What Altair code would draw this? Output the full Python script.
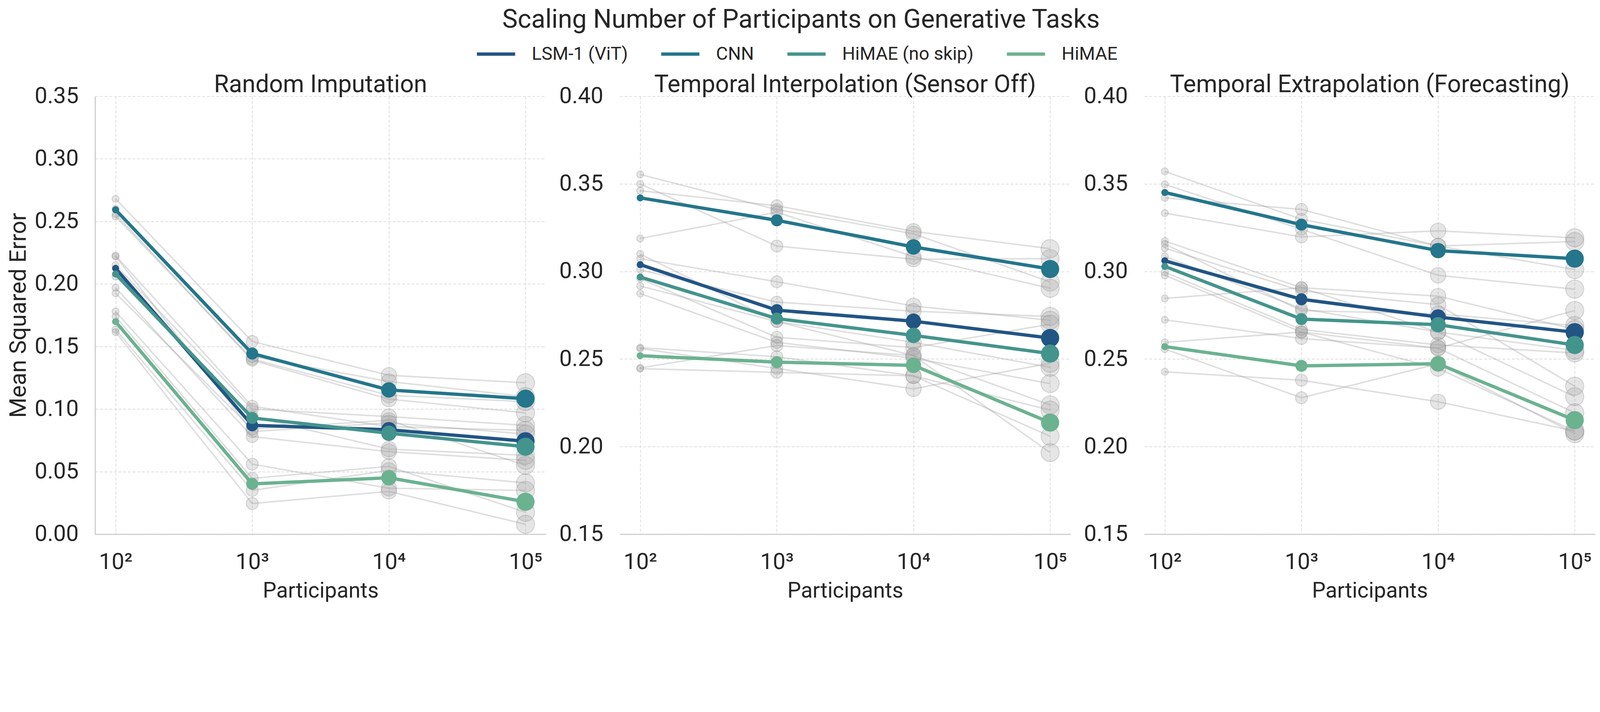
import altair as alt
import pandas as pd

FONT = "Roboto"
TEXT = "#262626"

PARTICIPANTS = [100, 1000, 10000, 100000]
MODELS = ["LSM-1 (ViT)", "CNN", "HiMAE (no skip)", "HiMAE"]
COLORS = ["#215584", "#23768b", "#43948c", "#6bb290"]
PANELS = ["Random Imputation", "Temporal Interpolation (Sensor Off)",
          "Temporal Extrapolation (Forecasting)"]

# ---- Random Imputation ----
RI_LSM = [0.2125, 0.0870, 0.0835, 0.0743]
RI_CNN = [0.2593, 0.1444, 0.1153, 0.1083]
RI_NOSKIP = [0.2080, 0.0929, 0.0807, 0.0699]
RI_HIMAE = [0.1699, 0.0402, 0.0451, 0.0259]
RI_GRAY = [
    [0.268, 0.154, 0.127, 0.121],
    [0.254, 0.140, 0.111, 0.106],
    [0.256, 0.139, 0.108, 0.097],
    [0.260, 0.142, 0.122, 0.110],
    [0.215, 0.100, 0.094, 0.087],
    [0.222, 0.082, 0.089, 0.080],
    [0.197, 0.078, 0.066, 0.059],
    [0.2226, 0.1022, 0.086, 0.083],
    [0.206, 0.094, 0.068, 0.063],
    [0.1926, 0.084, 0.091, 0.055],
    [0.178, 0.056, 0.0367, 0.035],
    [0.174, 0.0446, 0.0542, 0.0175],
    [0.1636, 0.035, 0.051, 0.041],
    [0.1615, 0.0245, 0.0342, 0.0079],
]

# ---- Temporal Interpolation (Sensor Off) ----
TI_LSM = [0.3039, 0.2779, 0.2716, 0.2620]
TI_CNN = [0.3420, 0.3292, 0.3140, 0.3014]
TI_NOSKIP = [0.2968, 0.2731, 0.2635, 0.2531]
TI_HIMAE = [0.2519, 0.2482, 0.2464, 0.2137]
TI_GRAY = [
    [0.3554, 0.3353, 0.3215, 0.2940],
    [0.3500, 0.3145, 0.3070, 0.3073],
    [0.3461, 0.3375, 0.3229, 0.3130],
    [0.3188, 0.3338, 0.3085, 0.2904],
    [0.3073, 0.2941, 0.2803, 0.2721],
    [0.3010, 0.2825, 0.2773, 0.2743],
    [0.3100, 0.2714, 0.2520, 0.2238],
    [0.2959, 0.2624, 0.2565, 0.2699],
    [0.2917, 0.2714, 0.2595, 0.2453],
    [0.2874, 0.2595, 0.2505, 0.2360],
    [0.2565, 0.2513, 0.2404, 0.2208],
    [0.2560, 0.2446, 0.2330, 0.2476],
    [0.2449, 0.2577, 0.2520, 0.1966],
    [0.2445, 0.2424, 0.2404, 0.2059],
]

# ---- Temporal Extrapolation (Forecasting) ----
TE_LSM = [0.3061, 0.2841, 0.2740, 0.2653]
TE_CNN = [0.3451, 0.3267, 0.3119, 0.3073]
TE_NOSKIP = [0.3029, 0.2728, 0.2696, 0.2580]
TE_HIMAE = [0.2571, 0.2461, 0.2473, 0.2151]
TE_GRAY = [
    [0.3571, 0.3298, 0.3145, 0.3011],
    [0.3497, 0.3241, 0.2978, 0.2899],
    [0.3420, 0.3354, 0.3145, 0.3171],
    [0.3333, 0.3197, 0.3232, 0.3192],
    [0.3174, 0.2907, 0.2859, 0.2669],
    [0.3157, 0.2776, 0.2758, 0.2691],
    [0.3133, 0.2889, 0.2810, 0.2345],
    [0.3085, 0.2788, 0.2654, 0.2285],
    [0.2996, 0.2669, 0.2580, 0.2535],
    [0.2978, 0.2654, 0.2562, 0.2193],
    [0.2846, 0.2907, 0.2654, 0.2550],
    [0.2724, 0.2617, 0.2562, 0.2777],
    [0.2595, 0.2654, 0.2446, 0.2089],
    [0.2557, 0.2279, 0.2473, 0.2074],
    [0.2427, 0.2379, 0.2256, 0.2089],
]

PANEL_DATA = [
    (RI_LSM, RI_CNN, RI_NOSKIP, RI_HIMAE, RI_GRAY),
    (TI_LSM, TI_CNN, TI_NOSKIP, TI_HIMAE, TI_GRAY),
    (TE_LSM, TE_CNN, TE_NOSKIP, TE_HIMAE, TE_GRAY),
]
Y_DOMAINS = [(0.0, 0.35), (0.15, 0.40), (0.15, 0.40)]

PW, PH = 1358, 1319

LABEL_EXPR = ("datum.value == 100 ? '10²' : datum.value == 1000 ? '10³' : "
              "datum.value == 10000 ? '10⁴' : '10⁵'")


def make_panel(i):
    lsm, cnn, noskip, himae, gray = PANEL_DATA[i]
    main_rows = []
    for m, vals in zip(MODELS, [lsm, cnn, noskip, himae]):
        for p, v in zip(PARTICIPANTS, vals):
            main_rows.append({"model": m, "participants": p, "mse": v})
    gray_rows = []
    for r, vals in enumerate(gray):
        for p, v in zip(PARTICIPANTS, vals):
            gray_rows.append({"run": f"r{r}", "participants": p, "mse": v})
    main_df = pd.DataFrame(main_rows)
    gray_df = pd.DataFrame(gray_rows)

    lo, hi = Y_DOMAINS[i]
    yticks = [round(lo + 0.05 * k, 2) for k in range(int(round((hi - lo) / 0.05)) + 1)]

    x = alt.X("participants:Q",
              scale=alt.Scale(type="log", domain=[70.8, 141254]),
              axis=alt.Axis(values=PARTICIPANTS, labelExpr=LABEL_EXPR,
                            title="Participants", grid=True))
    y = alt.Y("mse:Q",
              scale=alt.Scale(domain=[lo, hi], nice=False, zero=False),
              axis=alt.Axis(values=yticks, format=".2f",
                            title="Mean Squared Error" if i == 0 else None,
                            domain=(i == 0), grid=True))
    size = alt.Size("participants:Q",
                    scale=alt.Scale(type="log", domain=[100, 100000], range=[450, 3000]),
                    legend=None)
    if i == 0:
        legend = alt.Legend(orient="none", legendX=1145, legendY=-190,
                            direction="horizontal", title=None,
                            symbolType="stroke", symbolSize=13225,
                            symbolStrokeWidth=10, labelFontSize=55,
                            labelFont=FONT, labelColor=TEXT, labelOffset=45,
                            labelLimit=0, columnPadding=80, symbolOpacity=1)
    else:
        legend = None
    color = alt.Color("model:N", scale=alt.Scale(domain=MODELS, range=COLORS),
                      legend=legend, sort=MODELS)

    g_lines = alt.Chart(gray_df).mark_line(
        color="#9a9a9a", strokeWidth=4.5, opacity=0.33
    ).encode(x=x, y=y, detail="run:N")
    g_pts = alt.Chart(gray_df).mark_circle(
        fill="#a0a0a0", fillOpacity=0.27, stroke="#909090",
        strokeOpacity=0.35, strokeWidth=2.5
    ).encode(x=x, y=y, size=size)
    m_lines = alt.Chart(main_df).mark_line(
        strokeWidth=10, strokeCap="round", strokeJoin="round"
    ).encode(x=x, y=y, color=color, order=alt.Order("participants:Q"))
    m_pts = alt.Chart(main_df).mark_circle(opacity=1).encode(
        x=x, y=y, color=alt.Color("model:N", scale=alt.Scale(domain=MODELS, range=COLORS),
                                  legend=None),
        size=size)

    return alt.layer(g_lines, g_pts, m_lines, m_pts).properties(
        width=PW, height=PH,
        title=alt.TitleParams(PANELS[i], fontSize=73, font=FONT,
                              fontWeight="normal", color=TEXT, offset=-37))


chart = alt.hconcat(make_panel(0), make_panel(1), make_panel(2),
                    spacing=222, bounds="flush").properties(
    title=alt.TitleParams("Scaling Number of Participants on Generative Tasks",
                          fontSize=78, font=FONT, fontWeight="normal",
                          color=TEXT, anchor="middle", frame="bounds", offset=1),
    padding={"left": 11, "top": -135, "right": 5, "bottom": 5},
).configure_view(strokeWidth=0).configure_axis(
    labelFont=FONT, labelFontSize=68, labelColor=TEXT,
    titleFont=FONT, titleFontSize=65, titleFontWeight="normal", titleColor=TEXT,
    gridColor="#e0e0e0", gridDash=[9, 5], gridWidth=2.5,
    domainColor="#cccccc", domainWidth=3.5, ticks=False, labelPadding=50,
).configure_axisX(titlePadding=22).configure_axisY(titlePadding=12, titleFontSize=70)

chart.save("out.html", embed_options={"renderer": "svg", "actions": False})
